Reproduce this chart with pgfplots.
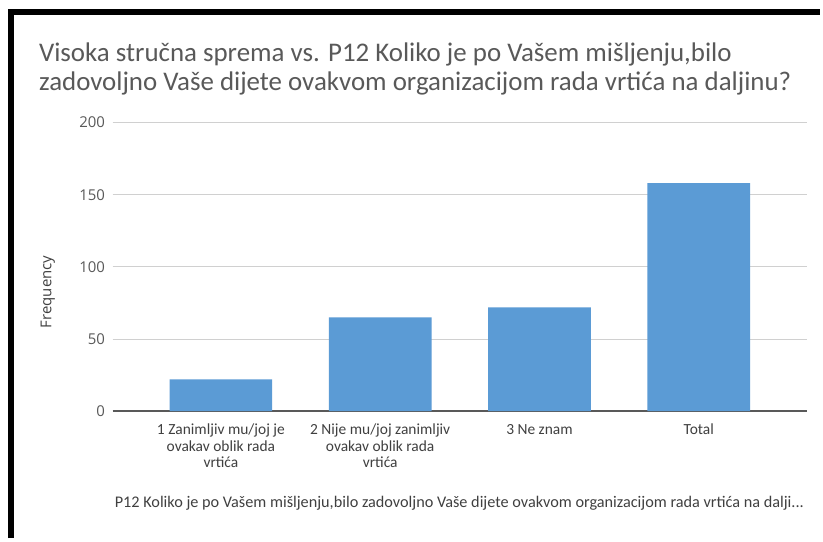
\documentclass[border=0pt]{standalone}
\usepackage{pgfplots}
\pgfplotsset{compat=1.18}
\usepackage{fontspec}
\setmainfont{Carlito}
\newfontfamily\ticksfont{Open Sans}
\definecolor{barblue}{HTML}{5B9BD5}
\definecolor{titlegray}{HTML}{595959}
\definecolor{tickgray}{HTML}{595959}
\definecolor{labelgray}{HTML}{404040}
\definecolor{gridgray}{HTML}{D0D0D0}
\definecolor{axisgray}{HTML}{595959}
\begin{document}
\begin{tikzpicture}[x=1pt,y=1pt]
\fill[white] (0,0) rectangle (823,-540);
\draw[line width=6pt, line join=miter] (11,-540) -- (11,-12) -- (823,-12);
\node[anchor=base west, inner sep=0pt, font=\fontsize{27}{30}\selectfont, text=titlegray] at (39,-62) {Visoka stručna sprema vs. P12 Koliko je po Vašem mišljenju,bilo};
\node[anchor=base west, inner sep=0pt, font=\fontsize{27}{30}\selectfont, text=titlegray] at (39,-91) {zadovoljno Vaše dijete ovakvom organizacijom rada vrtića na daljinu?};
\begin{axis}[
  at={(113pt,-412.7pt)}, anchor=south west,
  scale only axis, width=697pt, height=289.7pt,
  xmin=-0.68, xmax=3.68, ymin=0, ymax=200,
  axis x line*=bottom, axis y line*=left,
  x axis line style={draw=axisgray, line width=1.5pt, -},
  y axis line style={draw=none},
  major tick length=0pt,
  ytick={0,50,100,150,200},
  xtick={0,1,2,3},
  xticklabels={{1 Zanimljiv mu/joj je\\ovakav oblik rada\\vrtića},{2 Nije mu/joj zanimljiv\\ovakav oblik rada\\vrtića},{3 Ne znam\vphantom{lj}},{Total\vphantom{lj}}},
  ymajorgrids, grid style={draw=gridgray, line width=1pt},
  /pgf/number format/assume math mode=true,
  yticklabel style={font=\ticksfont\fontsize{15}{18}\selectfont, text=tickgray, inner sep=0pt, anchor=east, xshift=-7.5pt},
  xticklabel style={font=\fontsize{15.5}{16.5}\selectfont, text=labelgray, align=center, inner sep=0pt, anchor=north, yshift=-12.5pt},
  clip=false,
]
\addplot[ybar, bar width=103pt, bar shift=0pt, fill=barblue, draw=none] coordinates {(0,22) (1,65) (2,72) (3,158)};
\end{axis}
\node[rotate=90, font=\ticksfont\fontsize{15}{17}\selectfont, text=labelgray] at (48,-293) {Frequency};
\node[anchor=base, inner sep=0pt, font=\fontsize{16.3}{18}\selectfont, text=labelgray] at (461,-509) {P12 Koliko je po Vašem mišljenju,bilo zadovoljno Vaše dijete ovakvom organizacijom rada vrtića na dalji...};
\end{tikzpicture}
\end{document}
